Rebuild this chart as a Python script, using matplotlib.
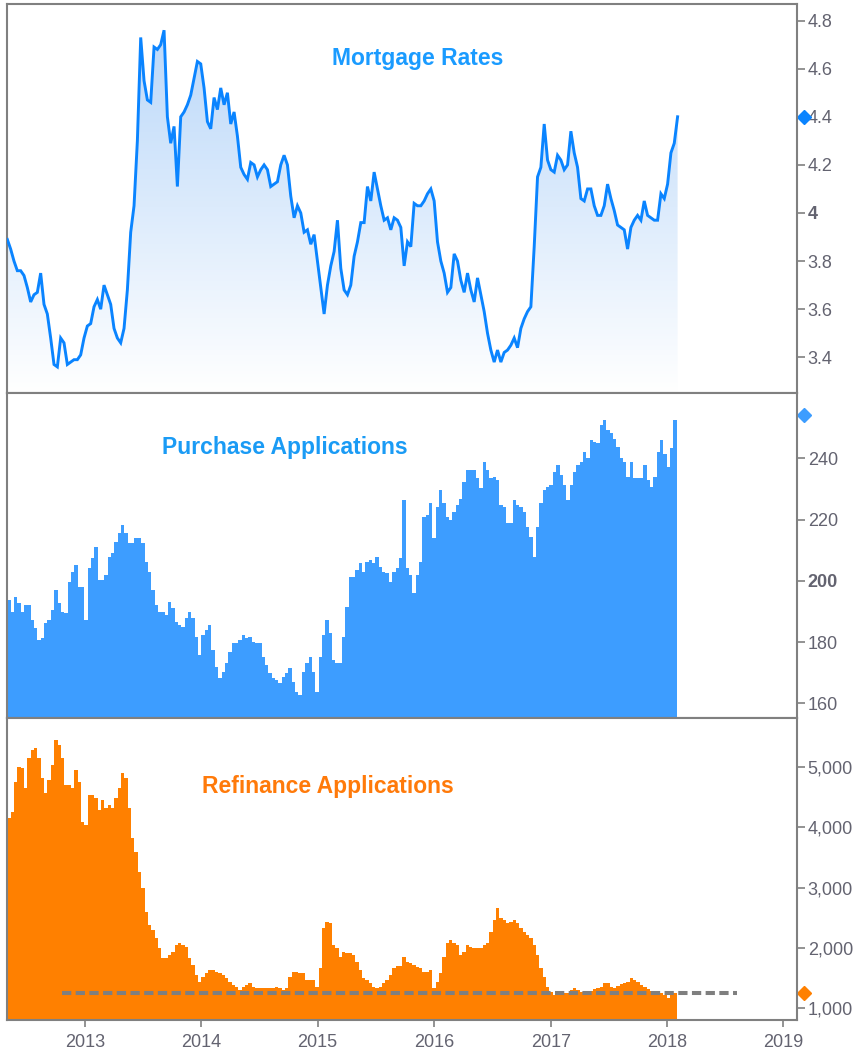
import matplotlib
matplotlib.use('Agg')
import matplotlib.pyplot as plt
import matplotlib.dates as mdates
import numpy as np
import pandas as pd
from matplotlib.colors import LinearSegmentedColormap

plt.rcParams['font.family'] = ['Liberation Sans', 'DejaVu Sans']

# weekly-ish series (May 2012 - Feb 2018)
rates = [
    3.89, 3.85, 3.80, 3.76, 3.76, 3.74, 3.69, 3.63, 3.66, 3.67,
    3.75, 3.62, 3.58, 3.48, 3.37, 3.36, 3.48, 3.46, 3.37, 3.38,
    3.39, 3.39, 3.41, 3.48, 3.53, 3.54, 3.61, 3.64, 3.60, 3.70,
    3.66, 3.62, 3.52, 3.48, 3.46, 3.52, 3.68, 3.92, 4.03, 4.30,
    4.73, 4.55, 4.47, 4.46, 4.69, 4.68, 4.70, 4.76, 4.40, 4.29,
    4.36, 4.11, 4.40, 4.42, 4.45, 4.49, 4.56, 4.63, 4.62, 4.52,
    4.38, 4.35, 4.48, 4.43, 4.52, 4.45, 4.50, 4.37, 4.42, 4.32,
    4.19, 4.16, 4.14, 4.21, 4.20, 4.15, 4.18, 4.20, 4.18, 4.11,
    4.12, 4.13, 4.20, 4.24, 4.20, 4.07, 3.98, 4.03, 4.00, 3.92,
    3.93, 3.87, 3.91, 3.80, 3.69, 3.58, 3.70, 3.78, 3.84, 3.97,
    3.77, 3.68, 3.66, 3.70, 3.82, 3.88, 3.96, 3.96, 4.11, 4.05,
    4.17, 4.10, 4.03, 3.97, 3.98, 3.93, 3.98, 3.97, 3.94, 3.78,
    3.88, 3.86, 4.04, 4.03, 4.03, 4.05, 4.08,
    4.10, 4.05, 3.88, 3.80, 3.75, 3.67, 3.69, 3.83, 3.80, 3.72,
    3.67, 3.75, 3.68, 3.63, 3.73, 3.66, 3.59, 3.50, 3.43, 3.38,
    3.43, 3.38, 3.42, 3.43, 3.45, 3.48, 3.44, 3.52, 3.56, 3.59,
    3.61, 3.86, 4.15, 4.19, 4.37, 4.22, 4.18, 4.17, 4.24, 4.22,
    4.18, 4.20, 4.34, 4.25, 4.19, 4.06, 4.05, 4.10, 4.10, 4.03,
    3.99, 3.99, 4.03, 4.12, 4.06, 4.01, 3.95, 3.94, 3.93, 3.85,
    3.94, 3.97, 3.99, 3.97, 4.05, 3.99, 3.98, 3.97, 3.97, 4.08,
    4.06, 4.12, 4.25, 4.29, 4.40]

purchase = [
    193.8, 190, 194.8, 192.7, 190, 192, 192, 187.2, 184.5, 180.7,
    181.2, 186.1, 187.2, 190.5, 197, 192.7, 190, 189.4, 199.7, 203,
    205.2, 198.1, 198.1, 187.2, 204.1, 207.4, 211.2, 200.3, 200.3, 201.9,
    207.9, 209, 212.8, 215.5, 218.2, 215.5, 212.3, 212.3, 213.9, 213.9,
    212.3, 206.3, 203, 197, 192.1, 190, 190, 188.9, 193.2, 191,
    186.7, 185.6, 185, 187.8, 190, 187.8, 181.8, 175.8, 182.3, 184,
    185.6, 177.4, 172, 168.2, 170.4, 173.1, 176.9, 179.6, 179.6, 180.7,
    182.3, 181.2, 181.8, 180.2, 179.6, 179.6, 175.3, 172.5, 169.8, 168.2,
    167.6, 166.6, 168.7, 169.8, 171.5, 167.1, 163.8, 162.7, 170.4, 173.1,
    175.3, 170.4, 163.8, 175.3, 182.3, 187.2, 182.9, 174.2, 173.1, 173.1,
    181.8, 191.6, 201.4,
    201.4,
    203.5, 205.7, 203, 206.3, 206.8, 205.7, 207.9, 204.6, 203, 202.5,
    199.7, 203, 204.1, 207.4, 226.4, 204.1, 201.9, 195.9, 201.9, 206.3,
    221, 221.5, 225.3, 213.9, 224.2, 229.7, 225.3, 221, 219.9, 222.6,
    224.8, 226.9, 232.4, 236.2, 236.2, 236.2, 233.5, 230.2, 238.9, 236.2,
    233.5, 234, 232.9, 224.8, 224.2, 218.8, 218.8, 226.4, 224.8, 224.2,
    222.6, 217.7, 214.4, 207.9, 217.7, 225.3, 229.7, 230.7, 231.3, 235.6,
    237.8, 234.6, 231.3, 226.4, 231.3, 235.6, 237.8, 238.9, 242.2, 240,
    246, 245.4, 244.9, 250.9, 252.5, 249.2, 248.2, 246.5, 243.8, 240,
    238.9, 234, 238.9, 233.5, 233.5, 233.5, 237.8, 232.9, 230.7, 234,
    242.2, 246, 241.6, 237.3, 243.3, 252.5, 254.1]

refinance = [
    4154, 4264, 4762, 5011, 4984, 4652, 5150, 5288, 5316, 5150,
    4818, 4569, 4790, 5039, 5454, 5371, 5150, 4707, 4707, 4652,
    4956, 4762, 4098, 4043, 4541, 4541, 4486, 4292, 4458, 4320,
    4375, 4320, 4486, 4652, 4901, 4818, 4320, 3822, 3600, 3268,
    2992, 2604, 2383, 2300, 2162, 1996, 1830, 1830, 1885, 1941,
    2051, 2079, 2051, 2023, 1830, 1719, 1553, 1443, 1526, 1581,
    1636, 1636, 1609, 1581, 1553, 1498, 1443, 1387, 1360, 1304,
    1360, 1387, 1415, 1360, 1332, 1332, 1332, 1332, 1332, 1332,
    1360, 1332, 1304, 1332, 1526, 1609, 1609, 1581, 1581, 1470,
    1470, 1470, 1360, 1664, 2328, 2438, 2411, 2051, 1996, 1857,
    1941, 1913, 1913,
    1885, 1775, 1636, 1498, 1470, 1415, 1360, 1332, 1360, 1415,
    1470, 1553, 1664, 1708, 1708, 1857, 1775, 1747, 1719, 1692,
    1664, 1609, 1609, 1636, 1332, 1443, 1581, 1857, 2079, 2134,
    2079, 2051, 1885, 1941, 2051, 2023, 1996, 1996, 1996, 2051,
    2079, 2273, 2466, 2660, 2494, 2466, 2411, 2438, 2466, 2411,
    2328, 2273, 2217, 2162, 2051, 1885, 1664, 1526, 1360, 1277,
    1221, 1221, 1249, 1249, 1249, 1304, 1332, 1304, 1277, 1277,
    1288, 1288, 1320, 1332, 1360, 1415, 1415, 1360, 1332, 1376,
    1398, 1415, 1443, 1498, 1470, 1443, 1387, 1360, 1320, 1288,
    1277, 1249, 1249, 1221, 1177, 1249, 1249, 1249]

refi_avg_dates = ['2012-10-20', '2018-08-08']
refi_avg_level = 1250

rate_ticks = [3.4, 3.6, 3.8, 4.0, 4.2, 4.4, 4.6, 4.8]
purchase_ticks = [160, 180, 200, 220, 240]
refi_ticks = [1000, 2000, 3000, 4000, 5000]

rate_dates = pd.date_range('2012-05-03', '2018-02-03', periods=len(rates))
purchase_dates = pd.date_range('2012-05-03', '2018-01-31', periods=len(purchase))
refi_dates = pd.date_range('2012-05-03', '2018-01-31', periods=len(refinance))

xmin, xmax = pd.Timestamp('2012-05-02'), pd.Timestamp('2019-02-11')

fig = plt.figure(figsize=(8.61, 10.55), dpi=100)
ax1 = fig.add_axes([0.00813, 0.6275, 0.9170, 0.3687])
ax2 = fig.add_axes([0.00813, 0.3194, 0.9170, 0.3081])
ax3 = fig.add_axes([0.00813, 0.0332, 0.9170, 0.2863])

gray = '#808080'
label_gray = '#636370'

# --- mortgage rates: line with gradient fill
r_lo, r_hi = 3.2515, 4.869
poly = ax1.fill_between(rate_dates, rates, r_lo, facecolor='none', edgecolor='none')
cmap = LinearSegmentedColormap.from_list('g', ['#ffffff', '#b9d7f9'])
grad = np.linspace(0, 1, 256).reshape(-1, 1)
im = ax1.imshow(grad, extent=[mdates.date2num(xmin), mdates.date2num(xmax), r_lo, 4.8],
                origin='lower', aspect='auto', cmap=cmap, zorder=1)
im.set_clip_path(poly.get_paths()[0], ax1.transData)
ax1.plot(rate_dates, rates, color='#0a84ff', lw=2.1, zorder=3, solid_joinstyle='miter')
ax1.set_ylim(r_lo, r_hi)

# --- purchase applications
ax2.fill_between(purchase_dates, purchase, 0, step='post', color='#3d9dff', lw=0)
ax2.set_ylim(155.2, 261.4)

# --- refinance applications
ax3.fill_between(refi_dates, refinance, 0, step='post', color='#ff8000', lw=0)
ax3.plot(pd.to_datetime(refi_avg_dates), [refi_avg_level] * 2, color='#7f7f7f',
         lw=2.9, dashes=(2.3, 1.1), zorder=4)
ax3.set_ylim(806, 5818)

for ax in (ax1, ax2, ax3):
    ax.set_xlim(xmin, xmax)
    for s in ax.spines.values():
        s.set_color(gray)
        s.set_linewidth(1.5)
    ax.yaxis.tick_right()
    ax.tick_params(axis='y', direction='out', length=6, width=1.2, color=gray,
                   labelsize=13, labelcolor=label_gray, pad=2)

ax1.set_yticks(rate_ticks, ['4' if t == 4.0 else f'{t:.1f}' for t in rate_ticks])
ax2.set_yticks(purchase_ticks, [str(t) for t in purchase_ticks])
ax3.set_yticks(refi_ticks, [f'{t:,}' for t in refi_ticks])
for ax, bold in ((ax1, '4'), (ax2, '200')):
    for lab in ax.get_yticklabels():
        if lab.get_text() == bold:
            lab.set_fontweight('bold')

for ax in (ax1, ax2):
    ax.tick_params(axis='x', bottom=False, labelbottom=False)
ax3.xaxis.set_major_locator(mdates.YearLocator())
ax3.xaxis.set_major_formatter(mdates.DateFormatter('%Y'))
ax3.tick_params(axis='x', direction='out', length=5, width=1.2, color=gray,
                labelsize=13, labelcolor=label_gray, pad=5)

# last-value markers on the right axis
ax1.plot([1.0095], [rates[-1]], marker='D', ms=7, color='#0a84ff',
         transform=ax1.get_yaxis_transform(), clip_on=False)
ax2.plot([1.0095], [purchase[-1]], marker='D', ms=7, color='#3d9dff',
         transform=ax2.get_yaxis_transform(), clip_on=False)
ax3.plot([1.0095], [refi_avg_level], marker='D', ms=7, color='#ff8000',
         transform=ax3.get_yaxis_transform(), clip_on=False)

# panel titles
ax1.text(0.5206, 0.861, 'Mortgage Rates', transform=ax1.transAxes, ha='center',
         va='center', fontsize=16.5, fontweight='bold', color='#1a9bff')
ax2.text(0.352, 0.833, 'Purchase Applications', transform=ax2.transAxes, ha='center',
         va='center', fontsize=16.5, fontweight='bold', color='#1a9bf5')
ax3.text(0.4066, 0.7715, 'Refinance Applications', transform=ax3.transAxes, ha='center',
         va='center', fontsize=16.5, fontweight='bold', color='#ff7a0a')

fig.savefig('out.png', dpi=100)
